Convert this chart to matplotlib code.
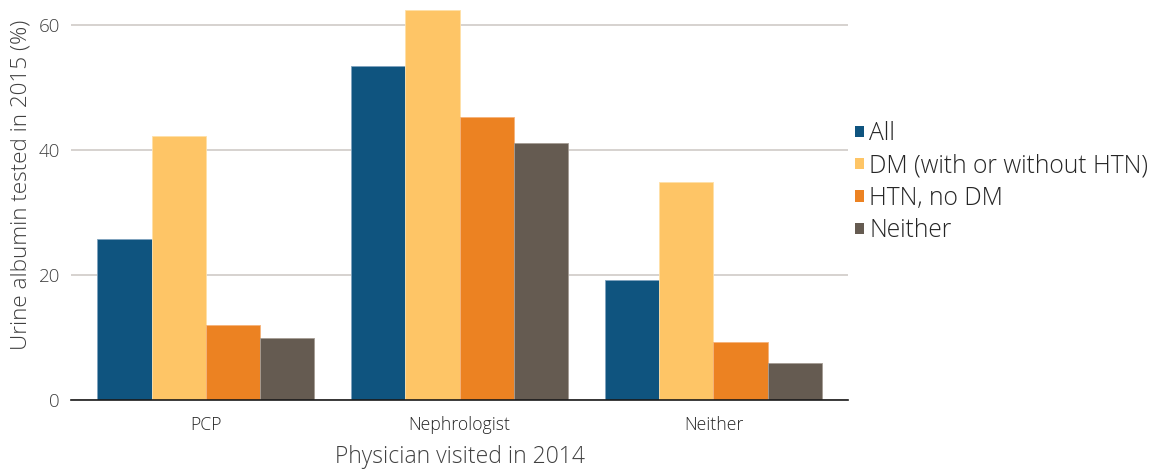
import matplotlib
matplotlib.use("Agg")
import matplotlib.pyplot as plt
import numpy as np
from matplotlib.patches import Patch

categories = ["PCP", "Nephrologist", "Neither"]
series_names = ["All", "DM (with or without HTN)", "HTN, no DM", "Neither"]
values_all = [25.7, 53.5, 19.2]
values_dm = [42.3, 62.5, 34.9]
values_htn = [11.9, 45.3, 9.2]
values_neither = [9.9, 41.1, 5.9]
y_ticks = [0, 20, 40, 60]

series = [values_all, values_dm, values_htn, values_neither]
colors = ["#0F547F", "#FEC566", "#EC8222", "#655B51"]
edges = ["#7FA3BE", "#FFE0A8", "#F5B27A", "#A59C93"]

plt.rcParams["font.family"] = ["Open Sans", "DejaVu Sans"]
plt.rcParams["font.weight"] = "light"
plt.rcParams["axes.labelweight"] = "light"

fig = plt.figure(figsize=(11.59, 4.72), dpi=100)
ax = fig.add_axes([0.0613, 0.1536, 0.6704, 0.8454])

x = np.arange(len(categories))
width = 0.213
offsets = (np.arange(len(series)) - 1.5) * width
for vals, off, c, e in zip(series, offsets, colors, edges):
    ax.bar(x + off, vals, width, color=c, edgecolor=e, linewidth=0.6, zorder=3)

ax.set_xlim(-0.53, 2.53)
ax.set_ylim(0, 64)
ax.set_yticks(y_ticks)
ax.set_yticklabels([str(t) for t in y_ticks], fontsize=13.5, color="#404040")
ax.set_xticks(x)
ax.set_xticklabels(categories, fontsize=12.7, color="#262626")
ax.tick_params(axis="both", length=0)
ax.tick_params(axis="x", pad=12)
ax.tick_params(axis="y", pad=8)

ax.grid(axis="y", color="#CFCBC7", linewidth=1.2, zorder=0)
for s in ["top", "right", "left"]:
    ax.spines[s].set_visible(False)
ax.spines["bottom"].set_color("#1a1a1a")
ax.spines["bottom"].set_linewidth(1.2)
ax.spines["bottom"].set_zorder(4)

ax.set_ylabel("Urine albumin tested in 2015 (%)", fontsize=16.2, color="#404040",
              fontweight="light")
ax.set_xlabel("Physician visited in 2014", fontsize=16.5, color="#404040",
              fontweight="light", labelpad=8)
ax.yaxis.set_label_coords(-0.051, 0.538)

handles = [Patch(facecolor=c, edgecolor="none") for c in colors]
fig.legend(handles, series_names, loc="center left", bbox_to_anchor=(0.719, 0.614),
           frameon=False, fontsize=17.7, handlelength=0.35, handleheight=0.35,
           handletextpad=0.22, labelspacing=0.3, labelcolor="#262626")

fig.savefig("out.png", dpi=100)
